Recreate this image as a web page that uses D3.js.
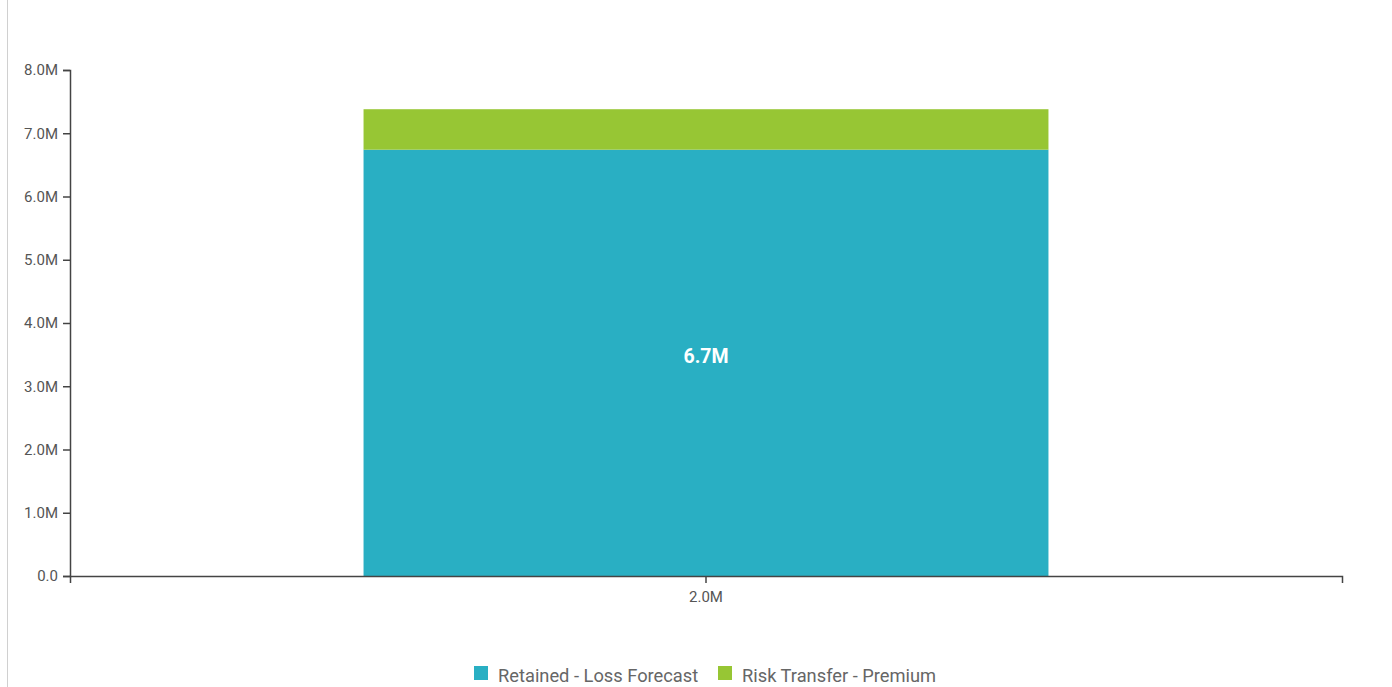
<!DOCTYPE html>
<html><head><meta charset="utf-8">
<script src="https://cdn.jsdelivr.net/npm/d3@7"></script>
<style>
body{margin:0;background:#fff;font-family:Roboto,"Noto Sans",sans-serif;}
</style></head>
<body>
<svg id="chart" width="1392" height="687"></svg>
<script>
const categories = ["2.0M"];
const seriesNames = ["Retained - Loss Forecast", "Risk Transfer - Premium"];
const retainedValues = [6740000];
const premiumValues = [640000];
const yTickValues = [0,1e6,2e6,3e6,4e6,5e6,6e6,7e6,8e6];
const colors = ["#29AFC3", "#97C634"];

const svg = d3.select("#chart");
svg.append("line").attr("x1",7.5).attr("x2",7.5).attr("y1",0).attr("y2",687)
  .attr("stroke","#d0d0d0").attr("stroke-width",1);

const m = {left:70, right:1342, top:70, bottom:576};
const x = d3.scaleBand().domain(categories).range([m.left, m.right]).padding(0.3);
const y = d3.scaleLinear().domain([0, 8e6]).range([m.bottom, m.top]);

const data = categories.map((c,i)=>({cat:c, retained:retainedValues[i], premium:premiumValues[i]}));
const stack = d3.stack().keys(["retained","premium"])(data);

const g = svg.append("g");
stack.forEach((layer, li) => {
  g.selectAll(null).data(layer).enter().append("rect")
    .attr("x", d => x(d.data.cat))
    .attr("width", x.bandwidth())
    .attr("y", d => y(d[1]))
    .attr("height", d => y(d[0]) - y(d[1]))
    .attr("fill", colors[li]);
});

// label
g.selectAll(null).data(stack[0]).enter().append("text")
  .attr("x", d => x(d.data.cat) + x.bandwidth()/2)
  .attr("y", d => (y(d[0]) + y(d[1]))/2 - 7)
  .attr("dy","0.35em")
  .attr("text-anchor","middle")
  .attr("fill","#fff").attr("font-weight","bold").attr("font-size",19.5)
  .attr("font-family","Roboto, sans-serif")
  .text(d => (Math.floor((d[1]-d[0])/1e5)/10).toFixed(1) + "M");

const fmt = v => v === 0 ? "0.0" : (v/1e6).toFixed(1) + "M";
const yAxis = svg.append("g").attr("transform", `translate(${m.left},0)`)
  .call(d3.axisLeft(y).tickValues(yTickValues).tickFormat(fmt).tickSize(7).tickSizeOuter(7).tickPadding(5));
const xAxis = svg.append("g").attr("transform", `translate(0,${m.bottom})`)
  .call(d3.axisBottom(x).tickSize(7).tickSizeOuter(7).tickPadding(8));
[yAxis, xAxis].forEach(a => {
  a.selectAll("path,line").attr("stroke","#444").attr("stroke-width",1.5);
  a.selectAll("text").attr("fill","#555").attr("font-size",15).attr("font-family","Roboto, sans-serif");
});

// legend
const legend = svg.append("g");
const lx = [474, 718];
seriesNames.forEach((n,i) => {
  legend.append("rect").attr("x", lx[i]).attr("y", 666).attr("width", 14).attr("height", 14).attr("fill", colors[i]);
  legend.append("text").attr("x", lx[i] + 24).attr("y", 676).attr("dy","0.35em")
    .attr("fill","#666").attr("font-size",18.3).attr("font-family","Roboto, sans-serif").text(n);
});
</script>
</body></html>
